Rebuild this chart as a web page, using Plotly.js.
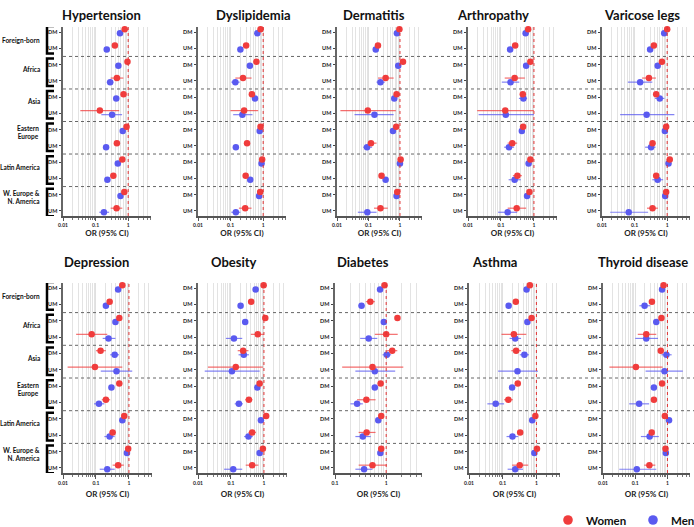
<!DOCTYPE html>
<html>
<head>
<meta charset="utf-8">
<script src="https://cdn.plot.ly/plotly-3.0.1.min.js"></script>
<style>html,body{margin:0;padding:0;background:#fff;}#chart{width:694px;height:527px;}</style>
</head>
<body>
<div id="chart"></div>
<script>
// ---------- categories / labels ----------
const groups = ['Foreign-born','Africa','Asia','Eastern<br>Europe','Latin America','W. Europe &<br>N. America'];
const rowLabels = ['DM','UM','DM','UM','DM','UM','DM','UM','DM','UM','DM','UM'];
const diseases = ['Hypertension','Dyslipidemia','Dermatitis','Arthropathy','Varicose legs',
                  'Depression','Obesity','Diabetes','Asthma','Thyroid disease'];
const xTickVals = [0.01, 0.1, 1];
const xTickText = ['0.01', '0.1', '1'];
const legendNames = ['Women', 'Men'];

// ---------- data: OR, lower CI, upper CI (order: FB DM, FB UM, Af DM, Af UM, As DM, As UM, EE DM, EE UM, LA DM, LA UM, WE DM, WE UM) ----------
const hypertensionW   = [0.78, 0.39, 0.95, 0.45, 0.72, 0.135, 0.89, 0.45, 0.66, 0.35, 0.76, 0.44];
const hypertensionWlo = [0.74, 0.36, 0.88, 0.29, 0.66, 0.034, 0.84, 0.37, 0.62, 0.29, 0.71, 0.29];
const hypertensionWhi = [0.82, 0.42, 1.03, 0.71, 0.79, 0.53, 0.94, 0.55, 0.70, 0.42, 0.81, 0.66];
const hypertensionM   = [0.56, 0.22, 0.50, 0.28, 0.43, 0.32, 0.68, 0.21, 0.48, 0.23, 0.58, 0.18];
const hypertensionMlo = [0.53, 0.20, 0.46, 0.22, 0.39, 0.15, 0.64, 0.19, 0.45, 0.19, 0.54, 0.13];
const hypertensionMhi = [0.59, 0.24, 0.55, 0.35, 0.48, 0.65, 0.72, 0.24, 0.52, 0.28, 0.62, 0.26];

const dyslipidemiaW   = [0.83, 0.30, 0.62, 0.24, 0.45, 0.26, 0.83, 0.32, 0.93, 0.29, 0.81, 0.28];
const dyslipidemiaWlo = [0.78, 0.27, 0.57, 0.14, 0.40, 0.099, 0.78, 0.27, 0.88, 0.25, 0.76, 0.18];
const dyslipidemiaWhi = [0.88, 0.33, 0.68, 0.44, 0.50, 0.70, 0.88, 0.38, 0.98, 0.34, 0.86, 0.44];
const dyslipidemiaM   = [0.66, 0.20, 0.39, 0.14, 0.56, 0.23, 0.78, 0.145, 0.89, 0.40, 0.75, 0.145];
const dyslipidemiaMlo = [0.62, 0.18, 0.36, 0.105, 0.51, 0.12, 0.74, 0.13, 0.85, 0.35, 0.71, 0.105];
const dyslipidemiaMhi = [0.70, 0.22, 0.42, 0.19, 0.62, 0.47, 0.82, 0.16, 0.93, 0.46, 0.79, 0.20];

const dermatitisW   = [0.96, 0.20, 1.25, 0.35, 0.78, 0.095, 0.76, 0.12, 1.05, 0.26, 0.82, 0.24];
const dermatitisWlo = [0.90, 0.18, 1.15, 0.20, 0.71, 0.0128, 0.70, 0.095, 0.98, 0.22, 0.76, 0.15];
const dermatitisWhi = [1.02, 0.22, 1.36, 0.63, 0.86, 0.74, 0.83, 0.18, 1.12, 0.30, 0.88, 0.41];
const dermatitisM   = [0.80, 0.17, 0.88, 0.24, 0.66, 0.155, 0.60, 0.09, 1.00, 0.35, 0.78, 0.092];
const dermatitisMlo = [0.75, 0.15, 0.82, 0.18, 0.60, 0.036, 0.55, 0.068, 0.94, 0.30, 0.73, 0.046];
const dermatitisMhi = [0.85, 0.19, 0.94, 0.33, 0.72, 0.63, 0.65, 0.13, 1.06, 0.42, 0.83, 0.18];

const arthropathyW   = [0.67, 0.27, 0.78, 0.26, 0.46, 0.135, 0.47, 0.22, 0.78, 0.315, 0.73, 0.30];
const arthropathyWlo = [0.63, 0.24, 0.73, 0.13, 0.38, 0.019, 0.43, 0.16, 0.73, 0.23, 0.69, 0.16];
const arthropathyWhi = [0.71, 0.31, 0.83, 0.53, 0.56, 1.00, 0.51, 0.31, 0.83, 0.43, 0.77, 0.58];
const arthropathyM   = [0.56, 0.19, 0.58, 0.195, 0.48, 0.14, 0.43, 0.175, 0.69, 0.26, 0.62, 0.16];
const arthropathyMlo = [0.53, 0.16, 0.54, 0.106, 0.35, 0.021, 0.40, 0.125, 0.65, 0.17, 0.58, 0.082];
const arthropathyMhi = [0.59, 0.23, 0.62, 0.36, 0.62, 1.00, 0.46, 0.25, 0.73, 0.40, 0.66, 0.31];

const varicoseW   = [1.00, 0.39, 0.69, 0.275, 0.46, null, 0.93, 0.355, 1.20, 0.46, 0.93, 0.355];
const varicoseWlo = [0.94, 0.35, 0.63, 0.17, 0.38, null, 0.87, 0.30, 1.10, 0.38, 0.87, 0.24];
const varicoseWhi = [1.06, 0.43, 0.76, 0.45, 0.55, null, 0.99, 0.42, 1.30, 0.55, 0.99, 0.52];
const varicoseM   = [0.81, 0.30, 0.51, 0.148, 0.59, 0.234, 0.85, 0.32, 1.10, 0.51, 0.87, 0.066];
const varicoseMlo = [0.76, 0.26, 0.47, 0.062, 0.42, 0.036, 0.80, 0.21, 1.02, 0.35, 0.82, 0.0178];
const varicoseMhi = [0.86, 0.34, 0.55, 0.35, 0.82, 1.66, 0.90, 0.44, 1.18, 0.75, 0.92, 0.26];

const depressionW   = [0.63, 0.26, 0.51, 0.074, 0.138, 0.093, 0.51, 0.20, 0.72, 0.32, 0.95, 0.47];
const depressionWlo = [0.58, 0.23, 0.46, 0.025, 0.10, 0.0138, 0.47, 0.15, 0.67, 0.26, 0.89, 0.32];
const depressionWhi = [0.68, 0.29, 0.56, 0.22, 0.20, 0.63, 0.55, 0.27, 0.77, 0.40, 1.01, 0.70];
const depressionM   = [0.47, 0.20, 0.39, 0.24, 0.37, 0.42, 0.295, 0.123, 0.63, 0.26, 0.87, 0.22];
const depressionMlo = [0.44, 0.18, 0.36, 0.16, 0.27, 0.14, 0.27, 0.087, 0.59, 0.18, 0.82, 0.13];
const depressionMhi = [0.50, 0.22, 0.42, 0.39, 0.50, 1.26, 0.32, 0.18, 0.67, 0.37, 0.92, 0.37];

const obesityW   = [0.98, 0.41, 1.10, 0.65, 0.234, 0.14, 0.74, 0.35, 1.17, 0.44, 0.93, 0.44];
const obesityWlo = [0.93, 0.38, 1.02, 0.40, 0.16, 0.02, 0.69, 0.27, 1.10, 0.34, 0.88, 0.28];
const obesityWhi = [1.03, 0.44, 1.18, 1.00, 0.34, 0.93, 0.79, 0.45, 1.24, 0.57, 0.98, 0.68];
const obesityM   = [0.56, 0.196, 0.27, 0.123, 0.245, 0.107, 0.63, 0.174, 0.81, 0.34, 0.74, 0.117];
const obesityMlo = [0.52, 0.18, 0.25, 0.07, 0.17, 0.016, 0.59, 0.13, 0.77, 0.25, 0.70, 0.062];
const obesityMhi = [0.60, 0.21, 0.29, 0.22, 0.35, 0.74, 0.67, 0.23, 0.85, 0.46, 0.78, 0.22];

const diabetesW   = [0.93, 0.49, 1.66, 1.00, 1.31, 0.54, 0.78, 0.41, 0.80, 0.415, 0.80, 0.54];
const diabetesWlo = [0.87, 0.40, 1.55, 0.60, 1.04, 0.138, 0.73, 0.27, 0.75, 0.29, 0.72, 0.29];
const diabetesWhi = [0.99, 0.60, 1.78, 1.68, 1.65, 2.16, 0.83, 0.62, 0.86, 0.62, 0.88, 1.03];
const diabetesM   = [0.76, 0.33, 0.90, 0.455, 1.03, 0.60, 0.60, 0.27, 0.70, 0.35, 0.77, 0.37];
const diabetesMlo = [0.71, 0.29, 0.85, 0.31, 0.85, 0.25, 0.56, 0.20, 0.66, 0.25, 0.69, 0.25];
const diabetesMhi = [0.81, 0.38, 0.95, 0.67, 1.25, 1.50, 0.64, 0.35, 0.74, 0.50, 0.87, 0.54];

const asthmaW   = [0.64, 0.245, 0.72, 0.214, 0.25, null, 0.28, 0.147, 0.93, 0.33, 1.04, 0.32];
const asthmaWlo = [0.60, 0.21, 0.67, 0.092, 0.18, null, 0.26, 0.11, 0.88, 0.27, 0.98, 0.19];
const asthmaWhi = [0.68, 0.29, 0.77, 0.50, 0.35, null, 0.30, 0.20, 0.98, 0.40, 1.10, 0.57];
const asthmaM   = [0.51, 0.15, 0.54, 0.235, 0.44, 0.275, 0.19, 0.062, 0.75, 0.195, 0.87, 0.235];
const asthmaMlo = [0.48, 0.13, 0.50, 0.16, 0.32, 0.073, 0.18, 0.035, 0.71, 0.13, 0.82, 0.14];
const asthmaMhi = [0.54, 0.17, 0.58, 0.35, 0.60, 1.11, 0.20, 0.11, 0.79, 0.29, 0.92, 0.40];

const thyroidW   = [0.76, 0.33, 0.65, 0.22, 0.62, 0.105, 0.68, 0.38, 0.83, 0.325, 0.87, 0.275];
const thyroidWlo = [0.71, 0.30, 0.60, 0.12, 0.57, 0.0158, 0.63, 0.32, 0.78, 0.28, 0.82, 0.19];
const thyroidWhi = [0.81, 0.36, 0.70, 0.45, 0.67, 0.71, 0.73, 0.45, 0.88, 0.37, 0.92, 0.42];
const thyroidM   = [0.68, 0.195, 0.45, 0.22, 0.93, 0.81, 0.38, 0.132, 1.12, 0.28, 0.89, 0.112];
const thyroidMlo = [0.63, 0.135, 0.41, 0.10, 0.65, 0.21, 0.35, 0.065, 1.05, 0.15, 0.78, 0.032];
const thyroidMhi = [0.73, 0.29, 0.49, 0.51, 1.35, 3.00, 0.41, 0.27, 1.19, 0.54, 1.02, 0.45];

// ---------- assembly ----------
const panelData = [
  [hypertensionW, hypertensionWlo, hypertensionWhi, hypertensionM, hypertensionMlo, hypertensionMhi],
  [dyslipidemiaW, dyslipidemiaWlo, dyslipidemiaWhi, dyslipidemiaM, dyslipidemiaMlo, dyslipidemiaMhi],
  [dermatitisW, dermatitisWlo, dermatitisWhi, dermatitisM, dermatitisMlo, dermatitisMhi],
  [arthropathyW, arthropathyWlo, arthropathyWhi, arthropathyM, arthropathyMlo, arthropathyMhi],
  [varicoseW, varicoseWlo, varicoseWhi, varicoseM, varicoseMlo, varicoseMhi],
  [depressionW, depressionWlo, depressionWhi, depressionM, depressionMlo, depressionMhi],
  [obesityW, obesityWlo, obesityWhi, obesityM, obesityMlo, obesityMhi],
  [diabetesW, diabetesWlo, diabetesWhi, diabetesM, diabetesMlo, diabetesMhi],
  [asthmaW, asthmaWlo, asthmaWhi, asthmaM, asthmaMlo, asthmaMhi],
  [thyroidW, thyroidWlo, thyroidWhi, thyroidM, thyroidMlo, thyroidMhi]
];

const W = 694, H = 527;
const FONT = 'Lato, "Open Sans", sans-serif';
const RED = '#F03C3C', BLUE = '#5A5AF0';
const RED_E = 'rgba(240,60,60,0.75)', BLUE_E = 'rgba(90,90,240,0.75)';

// pixel layout of each panel [left, right]
const xPix = [[63,151],[198,286],[337,422],[468,557],[602,690],
              [63,152],[198,287],[335,422],[469,560],[603,690]];
const rowY = [[27,216],[283,473]];
const titleX = [101,253,374,493,642, 96,234,363,494,643];
const titleY = [15, 262];

const idx = rowLabels.map((_, i) => i);
const traces = [];
const layout = {
  width: W, height: H,
  margin: {l:0, r:0, t:0, b:0},
  paper_bgcolor: '#fff', plot_bgcolor: 'rgba(0,0,0,0)',
  font: {family: FONT, color: '#222'},
  showlegend: false,
  shapes: [], annotations: []
};

function diff(a, b) { return a.map((v, i) => (v == null || b[i] == null) ? null : v - b[i]); }

for (let p = 0; p < 10; p++) {
  const n = p + 1;
  const row = p < 5 ? 0 : 1;
  const xs = n === 1 ? 'x' : 'x' + n, ys = n === 1 ? 'y' : 'y' + n;
  const xk = n === 1 ? 'xaxis' : 'xaxis' + n, yk = n === 1 ? 'yaxis' : 'yaxis' + n;
  const [wOR, wLo, wHi, mOR, mLo, mHi] = panelData[p];
  const isDiab = diseases[p] === 'Diabetes';

  traces.push({
    type:'scatter', mode:'markers', xaxis:xs, yaxis:ys, showlegend:false, name:legendNames[1],
    x: mOR, y: idx.map(i => i + 0.08),
    marker:{color:BLUE, size:6.5},
    error_x:{type:'data', symmetric:false, array:diff(mHi, mOR), arrayminus:diff(mOR, mLo),
             color:BLUE_E, thickness:1.2, width:0},
    cliponaxis:false
  });
  traces.push({
    type:'scatter', mode:'markers', xaxis:xs, yaxis:ys, showlegend:false, name:legendNames[0],
    x: wOR, y: idx.map(i => i - 0.17),
    marker:{color:RED, size:6.5},
    error_x:{type:'data', symmetric:false, array:diff(wHi, wOR), arrayminus:diff(wOR, wLo),
             color:RED_E, thickness:1.2, width:0},
    cliponaxis:false
  });

  const [l, r] = xPix[p];
  const [t, b] = rowY[row];
  layout[xk] = {
    type:'log', range: isDiab ? [-1, 0.7] : [-2, 0.7],
    domain:[l / W, r / W], anchor: ys,
    tickmode:'array',
    tickvals: isDiab ? xTickVals.slice(1) : xTickVals,
    ticktext: isDiab ? xTickText.slice(1) : xTickText,
    tickfont:{family:FONT, size:5, weight:700, color:'#222'},
    ticks:'outside', ticklen: row === 0 ? 3 : 4, tickcolor:'#555', tickwidth:1,
    showline:true, linecolor:'#555', linewidth:1.5,
    showgrid:true, gridcolor:'#e0e0e0', gridwidth:1, zeroline:false,
    minor:{dtick:'D1', showgrid:true, gridcolor:'#e3e3e3', gridwidth:1,
           ticks:'outside', ticklen:2, tickcolor:'#777'},
    title:{text:'OR (95% CI)', font:{family:FONT, size:8, weight:700, color:'#222'},
           standoff: row === 0 ? 4 : 7},
    fixedrange:true
  };
  layout[yk] = {
    domain:[1 - b / H, 1 - t / H], anchor: xs,
    range:[11.31, -0.31],
    tickmode:'array', tickvals: idx, ticktext: rowLabels,
    tickfont:{family:FONT, size:5.5, weight:700, color:'#222'},
    ticks:'outside', ticklen:2, tickcolor:'#444', tickwidth:1,
    showline:true, linecolor:'#666', linewidth:2.5,
    showgrid:false, zeroline:false, fixedrange:true
  };

  // reference line at OR = 1
  layout.shapes.push({type:'line', xref:xs, yref: ys + ' domain', x0:1, x1:1, y0:0, y1:1,
                      line:{color:'#E03434', width:1, dash:'dot'}});
  // title
  layout.annotations.push({text:'<b>' + diseases[p] + '</b>', xref:'paper', yref:'paper',
    x: titleX[p] / W, y: 1 - titleY[row] / H, xanchor:'center', yanchor:'middle', showarrow:false,
    font:{family:FONT, size:13, color:'#111'}});
}

// separators, brackets and group labels for each row
['y', 'y6'].forEach((yr, row) => {
  for (let g = 1; g < groups.length; g++) {
    const yy = 2 * g - 0.5;
    layout.shapes.push({type:'line', xref:'paper', yref:yr, x0:63 / W, x1:1, y0:yy, y1:yy,
                        line:{color:'#666', width:1, dash:'dot'}});
  }
  groups.forEach((gname, g) => {
    const top = 2 * g - 0.37, bot = 2 * g + 1 + 0.32;
    const xa = 54 / W, xb = 47 / W;
    layout.shapes.push({type:'path', xref:'paper', yref:yr,
      path:`M ${xa},${top} L ${xb},${top} L ${xb},${bot} L ${xa},${bot}`,
      line:{color:'#000', width:2.5}});
    const twoLine = gname.indexOf('<br>') >= 0;
    const centered = gname.indexOf('Eastern') === 0;
    layout.annotations.push({text:'<b>' + gname + '</b>', xref:'paper', yref:yr,
      x: centered ? 28 / W : 42 / W, y: 2 * g + 0.5 - (twoLine ? 0.3 : (g === 0 ? 0 : 0.2)),
      xanchor: centered ? 'center' : 'right', yanchor:'middle', align: centered ? 'center' : 'right',
      showarrow:false, font:{family:FONT, size:6.5, color:'#111'}});
  });
});

// legend (bottom right): symbols and labels
const legendItems = [{name:legendNames[0], color:RED, cx:568, tx:584},
                     {name:legendNames[1], color:BLUE, cx:653, tx:669}];
legendItems.forEach(it => {
  const rr = 4.8;
  layout.shapes.push({type:'circle', xref:'paper', yref:'paper',
    x0:(it.cx - rr) / W, x1:(it.cx + rr) / W, y0:1 - (520 + rr) / H, y1:1 - (520 - rr) / H,
    fillcolor:it.color, line:{width:0}});
  layout.annotations.push({text:'<b>' + it.name + '</b>', xref:'paper', yref:'paper',
    x: it.tx / W, y: 1 - 520 / H, xanchor:'left', yanchor:'middle', showarrow:false,
    font:{family:FONT, size:11.5, color:'#111'}});
});

Plotly.newPlot('chart', traces, layout, {displayModeBar:false, staticPlot:true});
</script>
</body>
</html>
